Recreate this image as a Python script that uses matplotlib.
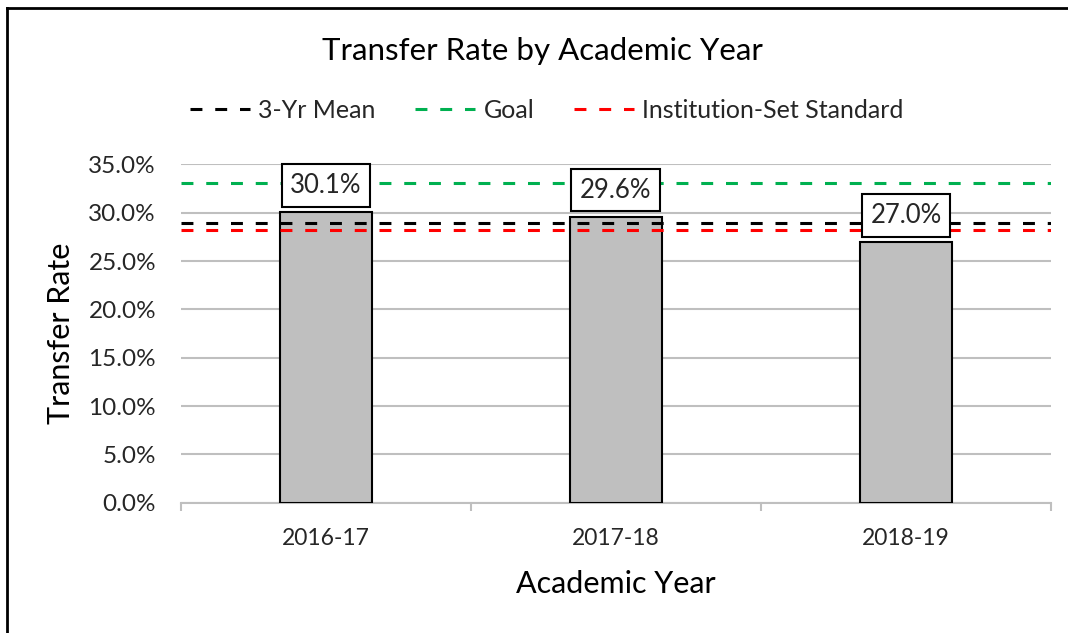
import numpy as np
import matplotlib
matplotlib.use("Agg")
import matplotlib.pyplot as plt
from matplotlib.lines import Line2D
from matplotlib.ticker import FuncFormatter, FixedLocator

plt.rcParams['font.family'] = ['Lato', 'DejaVu Sans']

# ---- data ----
years = ['2016-17', '2017-18', '2018-19']
rates = [30.1, 29.6, 27.0]          # transfer rate, %
mean_3yr = 28.9
goal = 33.1
inst_standard = 28.2

fig = plt.figure(figsize=(10.68, 6.33), dpi=100)
ax = fig.add_axes([0.1695, 0.2058, 0.8145, 0.5346])

x = np.arange(len(years))
ax.bar(x, rates, width=0.315, color='#BFBFBF', edgecolor='black', linewidth=1.5, zorder=3)

# reference lines
ref_lw = 2.2
dash = (3.9, 4.2)
ax.axhline(mean_3yr, color='black', lw=ref_lw, dashes=dash, zorder=4)
ax.axhline(goal, color='#00B050', lw=ref_lw, dashes=dash, zorder=4)
ax.axhline(inst_standard, color='#FF0000', lw=ref_lw, dashes=dash, zorder=4)

# boxed value labels
for xi, v in zip(x, rates):
    ax.annotate(f'{v:.1f}%', xy=(xi, v), xytext=(0, 10), textcoords='offset points',
                ha='center', va='bottom', fontsize=18.5, color='#262626', zorder=6,
                bbox=dict(boxstyle='square,pad=0.34', fc='white', ec='black', lw=1.5))

ax.set_ylim(0, 35)
ax.set_xlim(-0.5, len(years) - 0.5)
ax.set_yticks(np.arange(0, 36, 5))
ax.yaxis.set_major_formatter(FuncFormatter(lambda v, p: f'{v:.1f}%'))
ax.grid(axis='y', color='#BFBFBF', lw=1.5, zorder=0)
ax.tick_params(axis='y', length=0, pad=18, labelsize=17.5, labelcolor='#262626')

ax.set_xticks(x)
ax.set_xticklabels(years)
ax.tick_params(axis='x', which='major', length=0, pad=18, labelsize=16.5, labelcolor='#262626')
ax.xaxis.set_minor_locator(FixedLocator(np.arange(-0.5, len(years), 1.0)))
ax.tick_params(axis='x', which='minor', length=6, width=1.5, color='#BFBFBF')

for s in ['top', 'right', 'left']:
    ax.spines[s].set_visible(False)
ax.spines['bottom'].set_color('#BFBFBF')
ax.spines['bottom'].set_linewidth(1.5)

ax.set_ylabel('Transfer Rate', fontsize=22, color='black', labelpad=10)
ax.set_xlabel('Academic Year', fontsize=22, color='black', labelpad=15)

fig.text(0.508, 0.92, 'Transfer Rate by Academic Year', ha='center', va='center',
         fontsize=22.5, color='black')

handles = [Line2D([], [], color=c, lw=ref_lw, dashes=dash)
           for c in ['black', '#00B050', '#FF0000']]
fig.legend(handles, ['3-Yr Mean', 'Goal', 'Institution-Set Standard'],
           loc='center', bbox_to_anchor=(0.512, 0.826), ncol=3, frameon=False,
           fontsize=18, handlelength=2.4, handletextpad=0.32, columnspacing=1.6,
           labelcolor='#262626')

# outer chart frame (top and left edges; the rest runs off the canvas)
fx0 = 7 / 1068
fy0 = 1 - 8 / 633
fig.add_artist(Line2D([fx0, 1.0], [fy0, fy0], transform=fig.transFigure,
                      color='black', lw=2.0, solid_capstyle='projecting'))
fig.add_artist(Line2D([fx0, fx0], [0.0, fy0], transform=fig.transFigure,
                      color='black', lw=2.0, solid_capstyle='projecting'))

fig.savefig('out.png', dpi=100)
